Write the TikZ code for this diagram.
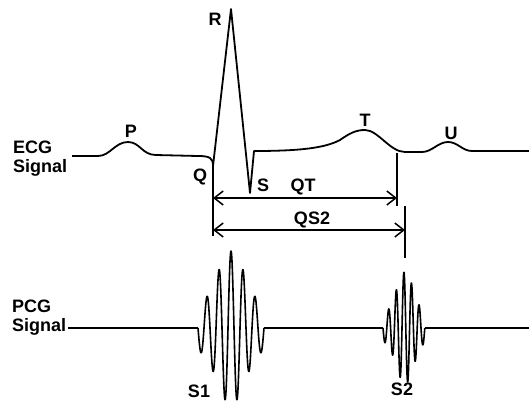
\documentclass[tikz,border=0pt]{standalone}
\usepackage{fontspec}
\setmainfont{Liberation Sans}
\usetikzlibrary{arrows.meta}

\begin{document}
\begin{tikzpicture}[x=1pt, y=-1pt,
  every node/.style={font=\bfseries\fontsize{18}{19}\selectfont, inner sep=0pt},
  signal/.style={line width=1.8pt, line join=round},
  wave/.style={line width=1.6pt, line join=round},
  marker/.style={line width=1.8pt},
  interval/.style={line width=1.5pt, {Straight Barb[length=9pt,width=14pt]}-{Straight Barb[length=9pt,width=14pt]}}]

  \useasboundingbox (0,0) rectangle (529,418);

  % Signal names on the left
  \node[align=left, anchor=north west] (ecg) at (13,141) {ECG\\Signal};
  \node[align=left, anchor=north west] (pcg) at (12,300) {PCG\\Signal};

  % ECG trace, points of the waves
  \coordinate (q) at (213,166);
  \coordinate (r) at (231,9);
  \coordinate (s) at (250,193);
  \coordinate (t) at (365,130);
  \coordinate (u) at (448,142);

  \draw[signal] (72,156) -- (98,156)
    .. controls (110,156) and (115,142) .. (128,142)
    .. controls (140,142) and (142,155) .. (156,155)
    -- (198,156) .. controls (210,156) and (213,158) .. (q)
    -- (r) -- (s) -- (254,151)
    .. controls (300,151) and (325,148) .. (340,140)
    .. controls (350,133) and (356,130) .. (t)
    .. controls (378,130) and (390,152) .. (405,152)
    -- (422,152) .. controls (432,152) and (438,142) .. (u)
    .. controls (458,142) and (462,151) .. (472,151) -- (529,151);

  % Wave labels
  \node (lblP) at (131,131) {P};
  \node (lblR) at (215,19) {R};
  \node (lblQ) at (200,177) {Q};
  \node (lblS) at (263,185) {S};
  \node (lblT) at (365,120) {T};
  \node (lblU) at (451,133) {U};

  % Interval markers
  \coordinate (qtop) at (213,166);
  \coordinate (qbot) at (213,236);
  \coordinate (ttop) at (397,153);
  \coordinate (tbot) at (397,206);
  \coordinate (s2top) at (405,206);
  \coordinate (s2bot) at (405,258);
  \draw[marker] (qtop) -- (qbot);
  \draw[marker] (ttop) -- (tbot);
  \draw[marker] (s2top) -- (s2bot);

  \coordinate (qtl) at (213,198);
  \coordinate (qtr) at (397,198);
  \coordinate (qsl) at (213,230);
  \coordinate (qsr) at (405,230);
  \draw[interval] (qtl) -- (qtr);
  \draw[interval] (qsl) -- (qsr);
  \node (lblQT) at (303,187) {QT};
  \node (lblQS2) at (312,220) {QS2};

  % PCG trace with the two heart sounds
  \coordinate (p0) at (68,328);
  \coordinate (p1) at (198,328);
  \coordinate (p2) at (264,328);
  \coordinate (p3) at (383,328);
  \coordinate (p4) at (425,328);
  \coordinate (p5) at (529,328);
  \draw[wave] (p0) -- (p1);
  \draw[wave] plot[domain=198:264, samples=300]
    (\x, {328 + (20+57*exp(-((\x-231)/19)*((\x-231)/19)))*sin(30*(\x-198))});
  \draw[wave] (p2) -- (p3);
  \draw[wave] plot[domain=383:424.8, samples=300]
    (\x, {328 + (12+44*exp(-((\x-405)/12)*((\x-405)/12)))*sin(47.37*(\x-383))});
  \draw[wave] (p4) -- (p5);

  \node (lblS1) at (199,391) {S1};
  \node (lblS2) at (402,389) {S2};

\end{tikzpicture}
\end{document}
